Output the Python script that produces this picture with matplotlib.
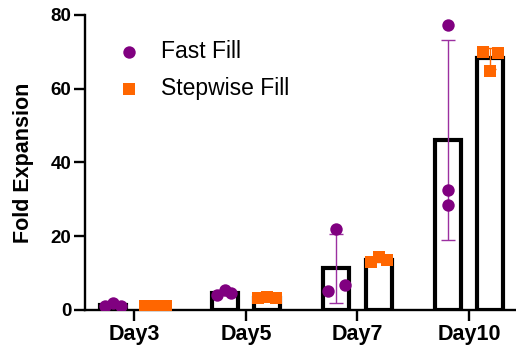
import matplotlib
matplotlib.use("Agg")
import matplotlib.pyplot as plt
import numpy as np

plt.rcParams['font.family'] = ['Liberation Sans', 'DejaVu Sans']

days = ["Day3", "Day5", "Day7", "Day10"]
fast = [[1.0, 1.8, 1.1], [4.1, 5.3, 4.6], [5.0, 22.0, 6.8], [28.5, 77.2, 32.5]]
step = [[1.0, 1.1, 1.0], [3.2, 3.6, 3.3], [13.0, 14.3, 13.6], [70.0, 64.8, 69.7]]
jit_fast = [[-0.07, 0.0, 0.07], [-0.07, 0.0, 0.06], [-0.075, 0.0, 0.075], [0.0, 0.0, 0.0]]
jit_step = [[-0.09, 0.0, 0.09], [-0.08, 0.0, 0.08], [-0.07, 0.0, 0.07], [-0.07, 0.0, 0.07]]

purple = "#800080"
orange = "#FF6600"

fig = plt.figure(figsize=(5.16, 3.53), dpi=100)
ax = fig.add_axes([0.165, 0.122, 0.835, 0.836])

x = np.arange(len(days))
off = 0.19
w = 0.23
fm = [np.mean(v) for v in fast]
fs = [np.std(v, ddof=1) for v in fast]
sm = [np.mean(v) for v in step]
ss = [np.std(v, ddof=1) for v in step]

ax.bar(x - off, fm, width=w, facecolor="white", edgecolor="black", linewidth=3.0, zorder=2)
ax.bar(x + off, sm, width=w, facecolor="white", edgecolor="black", linewidth=3.0, zorder=2)
ax.errorbar(x - off, fm, yerr=fs, fmt="none", ecolor="#9B30A0", elinewidth=1.0, capsize=5, capthick=1.0, zorder=3)
ax.errorbar(x + off, sm, yerr=ss, fmt="none", ecolor=orange, elinewidth=1.0, capsize=4, capthick=1.0, zorder=3)

for i in range(len(days)):
    xs = x[i] - off + np.array(jit_fast[i])
    ax.scatter(xs, fast[i], s=80, color=purple, marker="o", zorder=4, linewidths=0,
               label="Fast Fill" if i == 0 else None)
    xs2 = x[i] + off + np.array(jit_step[i])
    ax.scatter(xs2, step[i], s=75, color=orange, marker="s", zorder=4, linewidths=0,
               label="Stepwise Fill" if i == 0 else None)

ax.set_xlim(-0.44, 3.42)
ax.set_ylim(0, 80)
ax.set_yticks([0, 20, 40, 60, 80])
ax.set_xticks(x)
ax.set_xticklabels(days)
for s in ["top", "right"]:
    ax.spines[s].set_visible(False)
for s in ["left", "bottom"]:
    ax.spines[s].set_linewidth(1.7)
ax.tick_params(axis="both", width=1.7, length=8, pad=2)
ax.tick_params(axis="y", labelsize=13.5)
ax.tick_params(axis="x", labelsize=15.5)
for lab in ax.get_xticklabels() + ax.get_yticklabels():
    lab.set_fontweight("bold")
ax.set_ylabel("Fold Expansion", fontsize=15.5, fontweight="bold", labelpad=12)

ax.legend(loc="upper left", bbox_to_anchor=(0.0, 0.985), frameon=False, fontsize=16.5,
          labelspacing=0.62, handletextpad=0.4, scatterpoints=1)

fig.savefig("out.png", dpi=100)
